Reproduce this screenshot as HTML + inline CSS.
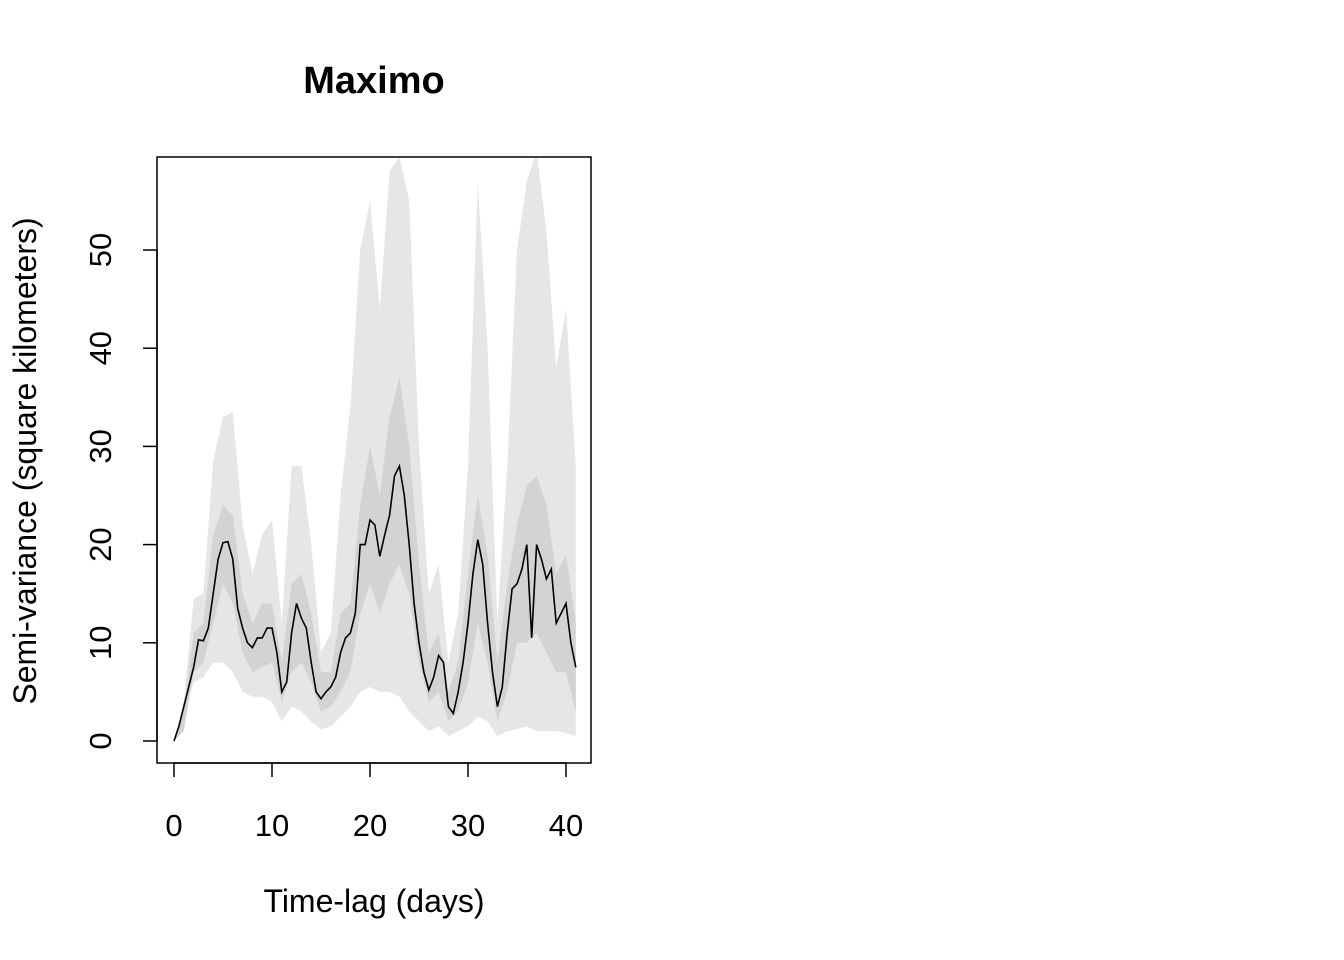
<!DOCTYPE html>
<html><head><meta charset="utf-8"><style>body{margin:0;background:#fff}svg{display:block}text{font-family:"Liberation Sans",Arial,sans-serif}</style></head>
<body>
<svg id="chart" width="1344" height="960">
<text x="374" y="93" text-anchor="middle" font-size="38" font-weight="bold">Maximo</text>
<text x="374" y="912" text-anchor="middle" font-size="32">Time-lag (days)</text>
<text transform="translate(36,461) rotate(-90)" text-anchor="middle" font-size="32">Semi-variance (square kilometers)</text>
<defs><clipPath id="pc"><rect x="157" y="157" width="434" height="606"/></clipPath></defs>
<g id="bands" clip-path="url(#pc)"></g>
<g id="axes"></g>
<rect x="157" y="157" width="434" height="606" fill="none" stroke="#000" stroke-width="1.5"/>
</svg>
<script>
const bandDays=[0,1,2,3,4,5,6,7,8,9,10,11,12,13,14,15,16,17,18,19,20,21,22,23,24,25,26,27,28,29,30,31,32,33,34,35,36,37,38,39,40,41];
const outerHi=[0,4,14.5,15,28.5,33,33.5,22,17,21,22.5,12,28,28,20,9,11,25,34,50,55,44,58,59.5,55,30,15,18,8,13,28,57,40,12,28,50,57,60,52,38,44,28];
const outerLo=[0,2.5,6,6.5,8,8,7,5,4.5,4.5,4,2,3.5,3,2,1.2,1.5,2.5,3.5,5,5.5,5,5,4.5,3,2,1,1.5,0.5,1,1.5,2.5,2,0.5,1,1.2,1.5,1,1,1,0.8,0.5];
const innerHi=[0,3,11,12,21,24,23,15,12,14,14,8,16,17,13,7,7,13,14,24,30,25,33,37,30,18,9,11,5,8,17,25,19,8,16,22,26,27,24,17,19,12];
const innerLo=[0,1,7,8,12,16,14,9,7,7.5,8,4,7,8,6,3,3.5,5,7,13,16,13,16,18,15,8,4,5,2,3,6,12,8,2,5,10,10,11,9,7,7,3];
const lineDays=[0,0.5,1,1.5,2,2.5,3,3.5,4,4.5,5,5.5,6,6.5,7,7.5,8,8.5,9,9.5,10,10.5,11,11.5,12,12.5,13,13.5,14,14.5,15,15.5,16,16.5,17,17.5,18,18.5,19,19.5,20,20.5,21,21.5,22,22.5,23,23.5,24,24.5,25,25.5,26,26.5,27,27.5,28,28.5,29,29.5,30,30.5,31,31.5,32,32.5,33,33.5,34,34.5,35,35.5,36,36.5,37,37.5,38,38.5,39,39.5,40,40.5,41];
const lineVals=[0,1.5,3.5,5.5,7.5,10.3,10.2,11.5,15,18.5,20.2,20.3,18.5,13.5,11.5,10,9.5,10.5,10.5,11.5,11.5,9,5,6,11,14,12.5,11.5,8,5,4.3,5,5.5,6.5,9,10.5,11,13,20,20,22.5,22,18.8,21,23,27,28,25,20,14,10,7,5.2,6.5,8.7,8,3.5,2.8,5,8,12,17,20.5,18,12,7,3.5,5.5,11,15.5,16,17.5,20,10.5,20,18.5,16.5,17.5,12,13,14,10,7.5];
const xTicks=[0,10,20,30,40];
const yTicks=[0,10,20,30,40,50];
const NS="http://www.w3.org/2000/svg";
const sx=d=>174+d*9.8, sy=v=>741-v*9.82;
function band(hi,lo,fill,name){
  let pts=bandDays.map((d,i)=>sx(d)+","+sy(hi[i]));
  for(let i=bandDays.length-1;i>=0;i--)pts.push(sx(bandDays[i])+","+sy(lo[i]));
  const p=document.createElementNS(NS,"polygon");
  p.setAttribute("points",pts.join(" "));p.setAttribute("fill",fill);
  
  
  document.getElementById("bands").appendChild(p);
}
band(outerHi,outerLo,"#e6e6e6","outer-confidence-band");
band(innerHi,innerLo,"#d3d3d3","inner-confidence-band");
const ln=document.createElementNS(NS,"polyline");
ln.setAttribute("points",lineDays.map((d,i)=>sx(d)+","+sy(lineVals[i])).join(" "));
ln.setAttribute("fill","none");ln.setAttribute("stroke","#000");ln.setAttribute("stroke-width","1.6");


document.getElementById("bands").appendChild(ln);
const ax=document.getElementById("axes");
function mk(tag,attrs,txt){const e=document.createElementNS(NS,tag);for(const k in attrs)e.setAttribute(k,attrs[k]);if(txt!==undefined)e.textContent=txt;ax.appendChild(e);return e;}
const xl=mk("line",{x1:sx(0),x2:sx(40),y1:763,y2:763,stroke:"#000","stroke-width":1.5});


xTicks.forEach(t=>{
  const tk=mk("line",{x1:sx(t),x2:sx(t),y1:763,y2:777,stroke:"#000","stroke-width":1.5});
  
  
  const lb=mk("text",{x:sx(t),y:836,"text-anchor":"middle","font-size":31},t);
  
  
});
const yl=mk("line",{x1:157,x2:157,y1:sy(0),y2:sy(50),stroke:"#000","stroke-width":1.5});


yTicks.forEach(t=>{
  const tk=mk("line",{x1:143,x2:157,y1:sy(t),y2:sy(t),stroke:"#000","stroke-width":1.5});
  
  
  const lb=mk("text",{transform:`translate(111,${sy(t)}) rotate(-90)`,"text-anchor":"middle","font-size":31},t);
  
  
});
</script>
</body></html>
